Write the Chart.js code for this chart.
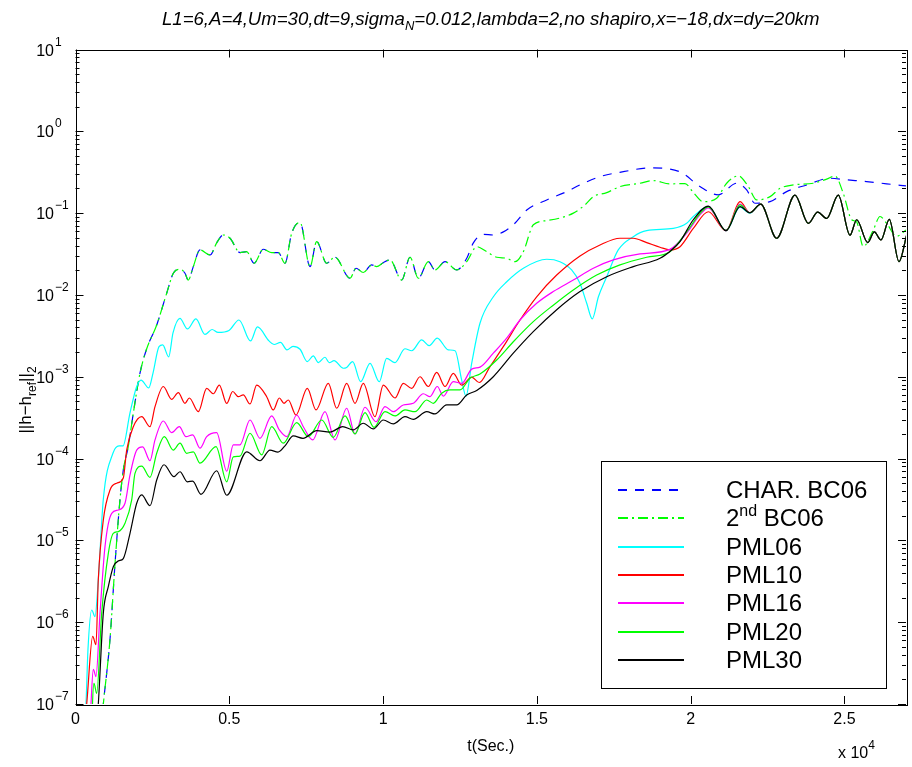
<!DOCTYPE html>
<html>
<head>
<meta charset="utf-8">
<title>Error norm vs time</title>
<script src="https://cdn.jsdelivr.net/npm/chart.js@4.4.0/dist/chart.umd.min.js"></script>
<style>
    body { margin: 0; background: #ffffff; }
    #wrap { width: 912px; height: 767px; }
</style>
</head>
<body>
<div id="wrap"><canvas id="errChart" width="912" height="767"></canvas></div>
<script>
// Axis ticks
const xTicks = [0, 5000, 10000, 15000, 20000, 25000];
const xTickLabels = ['0', '0.5', '1', '1.5', '2', '2.5'];
const yDecades = [-7, -6, -5, -4, -3, -2, -1, 0, 1];

// Legend names and line colours
const seriesNames = ['CHAR. BC06', '2nd BC06', 'PML06', 'PML10', 'PML16', 'PML20', 'PML30'];
const seriesColors = ['#0000ff', '#00ff00', '#00ffff', '#ff0000', '#ff00ff', '#00ff00', '#000000'];

// [t (s), ||h-href||_2]
const charBC06 = [[830,5e-8],[905,1e-7],[1120,6.1e-7],[1285,5.2e-6],[1445,3.1e-5],[1555,7.3e-5],[1715,1.4e-4],[1880,3.6e-4],
    [2095,1.1e-3],[2315,2.2e-3],[2640,4.3e-3],[2965,1.05e-2],[3180,1.84e-2],[3395,2.06e-2],[3560,1.84e-2],[3665,1.52e-2],
    [3830,2.22e-2],[4045,3.55e-2],[4375,3.08e-2],[4590,4.33e-2],[4805,5.4e-2],[5025,4.93e-2],[5350,3.29e-2],[5565,3.38e-2],
    [5805,2.44e-2],[6105,3.62e-2],[6380,3.29e-2],[6595,3.29e-2],[6810,2.44e-2],[7030,5.7e-2],[7300,7.7e-2],[7625,2.22e-2],
    [7840,4.49e-2],[8165,2.44e-2],[8435,2.89e-2],[8925,1.6e-2],[9120,2.12e-2],[9355,1.88e-2],[9630,2.33e-2],[9790,2.22e-2],
    [10005,2.48e-2],[10225,2.68e-2],[10605,1.52e-2],[10875,2.89e-2],[11145,1.6e-2],[11470,2.55e-2],[11685,2.02e-2],
    [12015,2.55e-2],[12395,2.02e-2],[12720,2.81e-2],[12930,4.3e-2],[13260,5.5e-2],[13585,5.4e-2],[13910,5.9e-2],
    [14235,7.2e-2],[14670,0.109],[15320,0.145],[15970,0.183],[16400,0.221],[17050,0.279],[17810,0.321],[18680,0.357],
    [19655,0.319],[20300,0.212],[20895,0.167],[21495,0.232],[21820,0.192],[22090,0.132],[22580,0.138],[23120,0.183],
    [23770,0.221],[24530,0.267],[25070,0.255],[25720,0.243],[26370,0.228],[27000,0.215]];

const secondBC06 = [[830,5e-8],[905,1e-7],[1120,6.1e-7],[1285,5.2e-6],[1445,3.1e-5],[1555,7.3e-5],[1715,1.4e-4],[1880,3.6e-4],
    [2095,1.1e-3],[2315,2.2e-3],[2640,4.3e-3],[2965,1.05e-2],[3180,1.84e-2],[3395,2.06e-2],[3560,1.84e-2],[3665,1.52e-2],
    [3830,2.22e-2],[4045,3.55e-2],[4375,3.08e-2],[4590,4.33e-2],[4805,5.4e-2],[5025,4.93e-2],[5350,3.29e-2],[5565,3.38e-2],
    [5805,2.44e-2],[6105,3.62e-2],[6380,3.29e-2],[6595,3.29e-2],[6810,2.44e-2],[7030,5.7e-2],[7300,7.7e-2],[7625,2.22e-2],
    [7840,4.49e-2],[8165,2.44e-2],[8435,2.89e-2],[8925,1.6e-2],[9120,2.12e-2],[9355,1.88e-2],[9630,2.33e-2],[9790,2.22e-2],
    [10005,2.48e-2],[10225,2.68e-2],[10605,1.52e-2],[10875,2.89e-2],[11145,1.6e-2],[11470,2.55e-2],[11685,2.02e-2],
    [12015,2.55e-2],[12395,2.02e-2],[12720,2.55e-2],[13045,3.89e-2],[13370,3.38e-2],[13695,2.89e-2],[14020,2.81e-2],
    [14290,2.55e-2],[14560,3.38e-2],[14885,7.2e-2],[15320,8.1e-2],[15750,8.7e-2],[16185,0.1],[16565,0.126],[16835,0.159],
    [17270,0.178],[17700,0.211],[18350,0.232],[18785,0.25],[19325,0.228],[19815,0.23],[20070,0.182],[20410,0.138],
    [20845,0.152],[21170,0.232],[21550,0.285],[21875,0.211],[22145,0.145],[22580,0.159],[22905,0.201],[23335,0.221],
    [23985,0.232],[24420,0.26],[24690,0.285],[24960,0.175],[25235,8.3e-2],[25395,7.8e-2],[25610,3.9e-2],[25935,6.2e-2],
    [26155,9.1e-2],[26370,7.5e-2],[26695,5.2e-2],[27000,6.2e-2]];

// common tail of all PML runs after t ~ 2.2e4
const pmlTail = [[22276,0.129],[22796,4.93e-2],[23391,0.166],[23824,7.5e-2],[24129,0.103],[24422,8.6e-2],[24799,0.166],
    [25179,5.37e-2],[25397,8.3e-2],[25755,4.36e-2],[25969,5.89e-2],[26187,4.7e-2],[26457,8.4e-2],[26772,2.55e-2],[27022,5.4e-2]];

const pml06 = [[240,5e-8],[340,1e-7],[405,4.6e-7],[527,1.41e-6],[634,1.17e-6],[741,3.3e-6],[905,3.2e-5],[1220,1.17e-4],
    [1415,1.43e-4],[1545,1.43e-4],[1770,3.6e-4],[1990,7.6e-4],[2130,9.1e-4],[2380,7.3e-4],[2520,1.11e-3],[2715,2.33e-3],
    [2835,2.45e-3],[3030,1.75e-3],[3170,3.43e-3],[3395,5.16e-3],[3640,3.84e-3],[3915,5.09e-3],[4210,3.29e-3],[4440,3.78e-3],
    [4635,3.48e-3],[4990,3.68e-3],[5315,4.94e-3],[5690,2.74e-3],[5915,4.06e-3],[6290,2.74e-3],[6455,2.48e-3],[6665,2.63e-3],
    [6875,2.13e-3],[7070,2.35e-3],[7300,2.17e-3],[7535,1.53e-3],[7730,1.8e-3],[7895,1.49e-3],[8110,1.73e-3],[8250,1.49e-3],
    [8405,1.57e-3],[8705,1.27e-3],[8815,1.3e-3],[9010,1.53e-3],[9270,8.7e-4],[9575,1.46e-3],[9875,8.7e-4],[10115,1.68e-3],
    [10385,1.49e-3],[10710,2.2e-3],[10930,2.08e-3],[11255,2.82e-3],[11500,2.4e-3],[11760,2.96e-3],[12120,2.13e-3],
    [12340,2.08e-3],[12555,9.1e-4],[12695,5.8e-4],[12880,1.46e-3],[13150,4.51e-3],[13585,9.5e-3],[14020,1.45e-2],
    [14560,2.12e-2],[15320,2.73e-2],[15750,2.55e-2],[16130,2.02e-2],[16400,1.39e-2],[16620,7.9e-3],[16800,5.1e-3],
    [17000,9.5e-3],[17270,1.67e-2],[17645,3.55e-2],[18135,5.16e-2],[18570,6.1e-2],[19435,6.5e-2],[19870,7.5e-2],
    [20085,9.1e-2],[20573,0.12],[21148,6.1e-2],[21603,0.118],[21928,0.1]].concat(pmlTail);

const pml10 = [[276,5e-8],[364,1e-7],[559,6.7e-7],[666,5.3e-7],[741,3.3e-6],[904,1.77e-5],[1122,4.13e-5],[1339,5e-5],
    [1554,5.8e-5],[1664,1.27e-4],[1879,2.45e-4],[2152,3.25e-4],[2422,2.45e-4],[2585,4.31e-4],[2854,7.6e-4],[3127,5.3e-4],
    [3342,6.4e-4],[3560,4.74e-4],[3700,5.5e-4],[3992,3.74e-4],[4265,7.2e-4],[4480,6.2e-4],[4675,7.9e-4],[4916,4.72e-4],
    [5111,6.6e-4],[5293,5.7e-4],[5455,6.0e-4],[5673,4.65e-4],[5891,7.9e-4],[6216,5.7e-4],[6430,3.93e-4],[6626,5.5e-4],
    [6778,4.74e-4],[6918,5.2e-4],[7168,3.41e-4],[7536,7.2e-4],[7819,3.93e-4],[8219,8.3e-4],[8492,4.12e-4],[8817,8.3e-4],
    [9087,4.74e-4],[9356,8.3e-4],[9737,3.25e-4],[10007,7.9e-4],[10387,5.5e-4],[10657,8.3e-4],[10930,7.2e-4],[11200,1.0e-3],
    [11470,7.6e-4],[11743,1.13e-3],[12013,7.6e-4],[12282,1.1e-3],[12556,7.9e-4],[12881,9.9e-4],[13128,8.5e-4],
    [13476,1.33e-3],[13908,2.33e-3],[14451,4.94e-3],[14993,9.5e-3],[15644,1.75e-2],[16402,3.0e-2],[17052,4.08e-2],
    [17702,4.93e-2],[18134,4.93e-2],[18570,4.36e-2],[19002,3.83e-2],[19327,3.55e-2],[19653,3.89e-2],[20085,6.5e-2],
    [20573,0.104],[21148,6.1e-2],[21603,0.138],[21928,0.101]].concat(pmlTail);

const pml16 = [[470,5e-8],[504,1e-7],[579,2.66e-7],[666,2.16e-7],[797,1.29e-6],[959,8.4e-6],[1177,2.14e-5],[1391,2.35e-5],
    [1609,2.84e-5],[1772,6.3e-5],[1990,1.27e-4],[2185,1.39e-4],[2422,9.4e-5],[2585,1.69e-4],[2854,2.88e-4],[3127,2.07e-4],
    [3374,2.45e-4],[3592,1.85e-4],[3810,1.95e-4],[4047,1.34e-4],[4265,1.85e-4],[4590,2.07e-4],[4916,7.0e-5],[5130,1.47e-4],
    [5348,1.47e-4],[5673,2.96e-4],[5998,1.77e-4],[6378,3.32e-4],[6626,2.24e-4],[6866,1.85e-4],[7191,3.41e-4],[7406,2.45e-4],
    [7711,1.69e-4],[8111,3.74e-4],[8436,1.69e-4],[8817,4.12e-4],[9087,2.0e-4],[9412,4.24e-4],[9769,2.82e-4],[10062,4.31e-4],
    [10332,3.74e-4],[10657,4.52e-4],[10982,4.74e-4],[11307,6.2e-4],[11525,5.7e-4],[11762,7.6e-4],[11957,5.8e-4],
    [12282,8.7e-4],[12556,8.3e-4],[12881,1.24e-3],[13150,1.31e-3],[13583,1.94e-3],[14018,2.96e-3],[14451,4.94e-3],
    [14993,7.9e-3],[15533,1.1e-2],[16183,1.52e-2],[16834,2.12e-2],[17484,2.68e-2],[18352,3.17e-2],[19327,3.6e-2],
    [19870,5.7e-2],[20300,9.5e-2],[20573,0.116],[21148,6.1e-2],[21603,0.129],[21928,0.101]].concat(pmlTail);

const pml20 = [[536,5e-8],[553,1e-7],[601,1.79e-7],[689,1.35e-7],[852,1.29e-6],[1066,6.9e-6],[1229,1.22e-5],[1391,1.28e-5],
    [1609,1.62e-5],[1827,3.12e-5],[1934,6.6e-5],[2152,8.1e-5],[2422,5.9e-5],[2640,1.16e-4],[2887,1.85e-4],[3180,1.27e-4],
    [3397,1.54e-4],[3615,1.16e-4],[3830,1.21e-4],[4047,8.8e-5],[4568,1.4e-4],[4916,5.2e-5],[5130,1.05e-4],[5348,1.07e-4],
    [5673,2.04e-4],[6053,1.11e-4],[6378,2.45e-4],[6756,1.54e-4],[7191,2.75e-4],[7568,1.85e-4],[8004,2.96e-4],[8381,1.82e-4],
    [8761,3.32e-4],[9087,2.0e-4],[9412,3.64e-4],[9704,2.41e-4],[10062,3.74e-4],[10387,3.32e-4],[10712,3.93e-4],
    [11037,3.74e-4],[11418,5.2e-4],[11632,4.74e-4],[11905,6.3e-4],[12175,6.9e-4],[12500,6.9e-4],[12825,9.6e-4],
    [13150,1.08e-3],[13693,1.6e-3],[14233,2.68e-3],[14883,4.72e-3],[15533,7.5e-3],[16183,1.15e-2],[16944,1.75e-2],
    [17702,2.33e-2],[18570,2.89e-2],[19327,3.38e-2],[19870,5.9e-2],[20300,9.9e-2],[20573,0.119],[21148,6.1e-2],
    [21603,0.126],[21928,0.101]].concat(pmlTail);

const pml30 = [[670,5e-8],[741,1e-7],[904,1.29e-6],[1066,2.72e-6],[1229,4.76e-6],[1391,5.6e-6],[1554,6.0e-6],[1772,1.22e-5],
    [1990,2.84e-5],[2152,3.59e-5],[2422,2.65e-5],[2640,5.47e-5],[2877,8.4e-5],[3202,6.0e-5],[3397,6.9e-5],[3635,5.2e-5],
    [3810,5.3e-5],[4080,3.66e-5],[4590,7.1e-5],[4916,3.56e-5],[5566,1.21e-4],[5998,9.4e-5],[6323,1.27e-4],[6583,1.2e-4],
    [6811,1.43e-4],[7081,1.89e-4],[7396,1.77e-4],[7841,2.19e-4],[8274,2.11e-4],[8687,2.45e-4],[9031,2.24e-4],[9356,2.7e-4],
    [9681,2.3e-4],[10007,2.96e-4],[10332,2.65e-4],[10712,3.25e-4],[10982,3.02e-4],[11418,3.74e-4],[11687,3.51e-4],
    [12068,4.52e-4],[12393,4.52e-4],[12718,6.0e-4],[13043,6.8e-4],[13583,1.0e-3],[14233,1.94e-3],[14883,3.56e-3],
    [15644,6.6e-3],[16402,1.1e-2],[17270,1.67e-2],[18134,2.22e-2],[19002,2.81e-2],[19382,3.55e-2],[19653,4.49e-2],
    [20085,8.3e-2],[20573,0.122],[21148,6.1e-2],[21603,0.12],[21928,0.101]].concat(pmlTail);

const seriesData = [charBC06, secondBC06, pml06, pml10, pml16, pml20, pml30];
const seriesDash = [[9, 8], [10, 4, 2, 4], [], [], [], [], []];

const FONT = '"Liberation Sans", Arial, Helvetica, sans-serif';

function toPoints(arr) {
    return arr.map(p => ({ x: p[0], y: p[1] }));
}

// draw a run of text pieces (for sub/superscripts)
function richText(ctx, parts, x, y, align, italic) {
    const style = italic ? 'italic ' : '';
    let w = 0;
    parts.forEach(p => {
        ctx.font = style + p[1] + 'px ' + FONT;
        w += ctx.measureText(p[0]).width;
    });
    let cx = x;
    if (align === 'center') cx = x - w / 2;
    if (align === 'right') cx = x - w;
    ctx.textAlign = 'left';
    ctx.textBaseline = 'alphabetic';
    parts.forEach(p => {
        ctx.font = style + p[1] + 'px ' + FONT;
        ctx.fillText(p[0], cx, y + (p[2] || 0));
        cx += ctx.measureText(p[0]).width;
    });
}

// Frame, ticks, labels and legend, MATLAB style
const matlabFrame = {
    id: 'matlabFrame',
    afterDraw(chart) {
        const ctx = chart.ctx;
        const area = chart.chartArea;
        const xs = chart.scales.x;
        const ys = chart.scales.y;
        ctx.save();
        ctx.fillStyle = '#000';
        ctx.strokeStyle = '#000';
        ctx.lineWidth = 1;
        ctx.setLineDash([]);

        // box
        ctx.strokeRect(Math.round(area.left) + 0.5, Math.round(area.top) + 0.5,
            Math.round(area.right - area.left), Math.round(area.bottom - area.top));

        ctx.beginPath();
        // x ticks
        xTicks.forEach(t => {
            const px = Math.round(xs.getPixelForValue(t)) + 0.5;
            ctx.moveTo(px, area.bottom); ctx.lineTo(px, area.bottom - 8);
            ctx.moveTo(px, area.top); ctx.lineTo(px, area.top + 8);
        });
        // y ticks, majors and minors
        yDecades.forEach(d => {
            for (let k = 1; k <= 9; k++) {
                const v = k * Math.pow(10, d);
                if (v > 10.0001) break;
                const py = Math.round(ys.getPixelForValue(v)) + 0.5;
                const len = k === 1 ? 8 : 4;
                ctx.moveTo(area.left, py); ctx.lineTo(area.left + len, py);
                ctx.moveTo(area.right, py); ctx.lineTo(area.right - len, py);
            }
        });
        ctx.stroke();

        // x tick labels
        xTicks.forEach((t, i) => {
            richText(ctx, [[xTickLabels[i], 16]], xs.getPixelForValue(t), area.bottom + 20, 'center');
        });
        richText(ctx, [['x 10', 16], ['4', 12, -9]], 838, 758, 'left');
        richText(ctx, [['t(Sec.)', 16]], (area.left + area.right) / 2, 751, 'center');

        // y tick labels
        yDecades.forEach(d => {
            const py = ys.getPixelForValue(Math.pow(10, d));
            const ex = d < 0 ? '\u2212' + (-d) : String(d);
            richText(ctx, [['10', 16]], 54, py + 6, 'right');
            richText(ctx, [[ex, 12]], 55, py - 4, 'left');
        });

        // y label, rotated
        ctx.save();
        ctx.translate(31, 400);
        ctx.rotate(-Math.PI / 2);
        richText(ctx, [['||h\u2212h', 17], ['ref', 12, 5], ['||', 17], ['2', 12, 5]], 0, 0, 'center');
        ctx.restore();

        // title
        richText(ctx, [['L1=6,A=4,Um=30,dt=9,sigma', 18.6], ['N', 13, 5],
            ['=0.012,lambda=2,no shapiro,x=\u221218,dx=dy=20km', 18.6]],
            (area.left + area.right) / 2, 25, 'center', true);

        // legend
        const lx = 601, ly = 461, lw = 285, lh = 227;
        ctx.fillStyle = '#fff';
        ctx.fillRect(lx, ly, lw, lh);
        ctx.strokeStyle = '#000';
        ctx.strokeRect(lx + 0.5, ly + 0.5, lw, lh);
        seriesNames.forEach((name, i) => {
            const ry = Math.round(490 + i * 28.3);
            ctx.strokeStyle = seriesColors[i];
            ctx.lineWidth = 2;
            ctx.setLineDash(seriesDash[i]);
            ctx.beginPath();
            ctx.moveTo(618, ry); ctx.lineTo(684, ry);
            ctx.stroke();
            ctx.setLineDash([]);
            ctx.fillStyle = '#000';
            if (i === 1) {
                richText(ctx, [['2', 24], ['nd', 16, -10], [' BC06', 24]], 726, ry + 8, 'left');
            } else {
                richText(ctx, [[name, 24]], 726, ry + 8, 'left');
            }
        });
        ctx.restore();
    }
};

window.addEventListener('DOMContentLoaded', function() {
    const ctx = document.getElementById('errChart');
    // later series are drawn on top (lower order = on top)
    const datasets = seriesNames.map((name, i) => ({
        label: name,
        data: toPoints(seriesData[i]),
        borderColor: seriesColors[i],
        borderWidth: 1.2,
        borderDash: seriesDash[i],
        pointRadius: 0,
        fill: false,
        cubicInterpolationMode: 'monotone',
        order: seriesNames.length - 1 - i
    }));
    new Chart(ctx, {
        type: 'line',
        data: { datasets: datasets },
        options: {
            responsive: false,
            devicePixelRatio: 1,
            animation: false,
            layout: { padding: { left: 75.5, right: 6, top: 49.5, bottom: 63 } },
            plugins: {
                legend: { display: false },
                tooltip: { enabled: false },
                title: { display: false }
            },
            scales: {
                x: { type: 'linear', min: 0, max: 27000, display: false },
                y: { type: 'logarithmic', min: 1e-7, max: 10, display: false }
            }
        },
        plugins: [matlabFrame]
    });
});
</script>
</body>
</html>
